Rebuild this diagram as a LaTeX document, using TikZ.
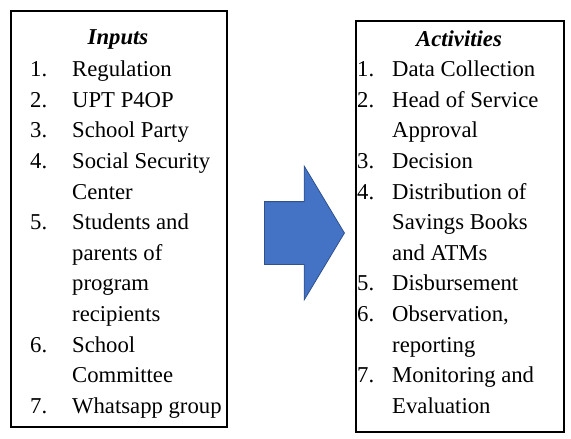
\documentclass[tikz,border=0pt]{standalone}
\usepackage{fontspec}
\setmainfont{Liberation Serif}
\usetikzlibrary{positioning,shapes.arrows}

\definecolor{flowblue}{HTML}{4472C4}
\definecolor{flowedge}{HTML}{2F528F}

\newcommand{\listfont}{\fontsize{22.7}{30.6}\selectfont}

\begin{document}
\begin{tikzpicture}[x=1pt, y=-1pt,
    panel/.style = {draw, line width=1.6pt, anchor=north west, inner sep=0pt},
    head/.style = {font=\listfont\bfseries\itshape, inner sep=0pt},
    items/.style = {anchor=north west, inner sep=0pt, font=\listfont, align=left},
    flow/.style = {single arrow, fill=flowblue, draw=flowedge, line width=0.8pt,
        inner xsep=0pt, inner ysep=31pt, minimum height=80pt,
        single arrow head extend=35.5pt, single arrow tip angle=118}]
    \useasboundingbox (0,0) rectangle (571,439);

    % input side
    \node[panel, minimum width=216pt, minimum height=416pt] (inbox) at (10,10) {};
    \node[head] (inhead) at (118,39) {Inputs};
    \node[items] (inlist) at (30,55) {%
        \begin{tabular}{@{}p{42pt}@{}l@{}}
        1. & Regulation\\
        2. & UPT P4OP\\
        3. & School Party\\
        4. & Social Security\\
           & Center\\
        5. & Students and\\
           & parents of\\
           & program\\
           & recipients\\
        6. & School\\
           & Committee\\
        7. & Whatsapp group
        \end{tabular}};

    % arrow between the two panels
    \node[flow] (handover) at (295,233) {};

    % activity side
    \node[panel, minimum width=208pt, minimum height=411pt] (actbox) at (355,20) {};
    \node[head] (acthead) at (459,39) {Activities};
    \node[items] (actlist) at (357,55) {%
        \begin{tabular}{@{}p{35pt}@{}l@{}}
        1. & Data Collection\\
        2. & Head of Service\\
           & Approval\\
        3. & Decision\\
        4. & Distribution of\\
           & Savings Books\\
           & and ATMs\\
        5. & Disbursement\\
        6. & Observation,\\
           & reporting\\
        7. & Monitoring and\\
           & Evaluation
        \end{tabular}};
\end{tikzpicture}
\end{document}
